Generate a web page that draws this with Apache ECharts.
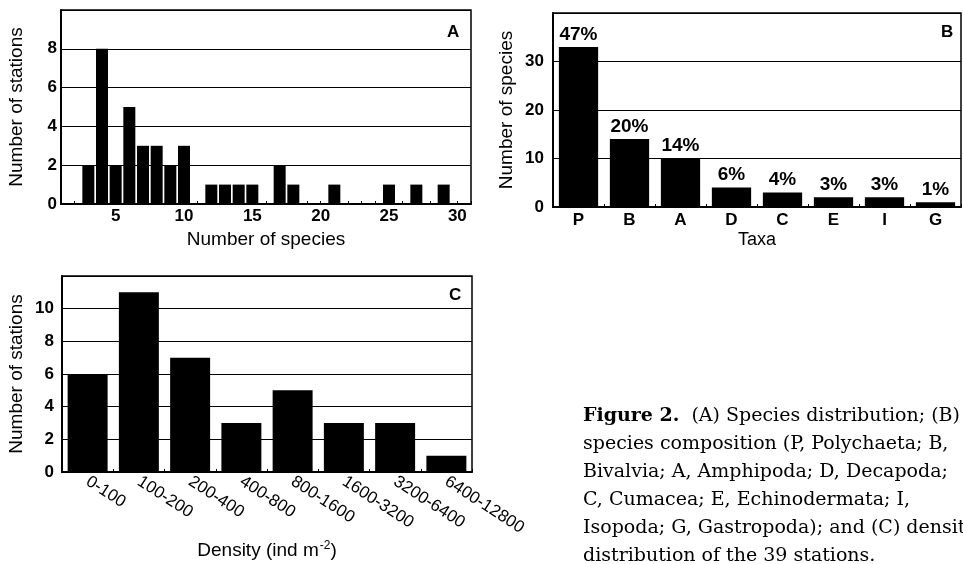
<!DOCTYPE html>
<html><head><meta charset="utf-8">
<script src="https://cdn.jsdelivr.net/npm/echarts@6/dist/echarts.min.js"></script>
<style>html,body{margin:0;padding:0;background:#fff}#main{width:963px;height:564px}</style>
</head><body><div id="main"></div>
<script>
// A: species distribution
var speciesCount = [3, 4, 5, 6, 7, 8, 9, 10, 12, 13, 14, 15, 17, 18, 21, 25, 27, 29]
var stationsA = [2, 8, 2, 5, 3, 3, 2, 3, 1, 1, 1, 1, 2, 1, 1, 1, 1, 1]
// B: species composition
var taxa = ['P', 'B', 'A', 'D', 'C', 'E', 'I', 'G']
var speciesB = [33, 14, 10, 4, 3, 2, 2, 1]
var pctB = ['47%', '20%', '14%', '6%', '4%', '3%', '3%', '1%']
// C: density distribution
var densityBins = ['0-100', '100-200', '200-400', '400-800', '800-1600', '1600-3200', '3200-6400', '6400-12800']
var stationsC = [6, 11, 7, 3, 5, 3, 3, 1]

var FONT = 'Liberation Sans'
var SERIF = 'DejaVu Serif'

var chart = echarts.init(document.getElementById('main'))

function gridBox(left, top, width, height) {
  return {
    left: left, top: top, width: width, height: height,
    show: true, borderColor: '#000', borderWidth: 1.5, backgroundColor: '#fff'
  }
}

function yAxis(idx, max, interval, name, gap, margin) {
  return {
    type: 'value', gridIndex: idx, min: 0, max: max, interval: interval,
    name: name, nameLocation: 'middle', nameGap: gap,
    nameTextStyle: { fontFamily: FONT, fontSize: 19, color: '#000' },
    axisLine: { show: true, lineStyle: { color: '#000', width: 2 } },
    axisTick: { show: true, inside: true, length: 4, lineStyle: { color: '#000' } },
    axisLabel: {
      fontFamily: FONT, fontSize: 17, fontWeight: 'bold', color: '#000', margin: margin,
      formatter: function (v) { return v === max ? '' : v }
    },
    splitLine: { show: true, lineStyle: { color: '#000', width: 1.2 } }
  }
}

var captionLines = [
  '{b|Figure 2.}  (A) Species distribution; (B)',
  'species composition (P, Polychaeta; B,',
  'Bivalvia; A, Amphipoda; D, Decapoda;',
  'C, Cumacea; E, Echinodermata; I,',
  'Isopoda; G, Gastropoda); and (C) density',
  'distribution of the 39 stations.'
]

var graphics = [
  { type: 'text', left: 447, top: 24, style: { text: 'A', font: 'bold 17px ' + FONT, fill: '#000' } },
  { type: 'text', left: 941, top: 24, style: { text: 'B', font: 'bold 17px ' + FONT, fill: '#000' } },
  { type: 'text', left: 449, top: 287, style: { text: 'C', font: 'bold 17px ' + FONT, fill: '#000' } }
]
captionLines.forEach(function (line, i) {
  graphics.push({
    type: 'text', x: 583, y: 416 + i * 28,
    style: {
      text: line, fill: '#000', fontFamily: SERIF, fontSize: 19, verticalAlign: 'middle',
      rich: { b: { fontFamily: SERIF, fontSize: 19, fontWeight: 'bold' } }
    }
  })
})

chart.setOption({
  animation: false,
  backgroundColor: '#fff',
  grid: [
    gridBox(61, 10, 410, 194),
    gridBox(553, 13, 408, 194),
    gridBox(62, 276, 410, 196)
  ],
  xAxis: [
    {
      type: 'value', gridIndex: 0, min: 1, max: 31, interval: 1,
      name: 'Number of species', nameLocation: 'middle', nameGap: 26,
      nameTextStyle: { fontFamily: FONT, fontSize: 19, color: '#000' },
      axisLine: { show: true, lineStyle: { color: '#000', width: 2 } },
      axisTick: { show: true, inside: true, length: 3, lineStyle: { color: '#000' } },
      axisLabel: {
        fontFamily: FONT, fontSize: 17, fontWeight: 'bold', color: '#000', margin: 4,
        formatter: function (v) { return v % 5 === 0 ? v : '' }
      },
      splitLine: { show: false }
    },
    {
      type: 'category', gridIndex: 1, data: taxa,
      name: 'Taxa', nameLocation: 'middle', nameGap: 24,
      nameTextStyle: { fontFamily: FONT, fontSize: 18, color: '#000' },
      axisLine: { show: true, lineStyle: { color: '#000', width: 2 } },
      axisTick: { show: true, inside: true, length: 3, lineStyle: { color: '#000' } },
      axisLabel: { fontFamily: FONT, fontSize: 17, fontWeight: 'bold', color: '#000', margin: 5 }
    },
    {
      type: 'category', gridIndex: 2, data: densityBins,
      name: '{n|Density (ind m}{s|-2}{n|)}', nameLocation: 'middle', nameGap: 68,
      nameTextStyle: {
        color: '#000',
        rich: {
          n: { fontFamily: FONT, fontSize: 19, color: '#000' },
          s: { fontFamily: FONT, fontSize: 12, color: '#000', padding: [0, 0, 10, 1] }
        }
      },
      axisLine: { show: true, lineStyle: { color: '#000', width: 2 } },
      axisTick: { show: true, inside: true, length: 3, lineStyle: { color: '#000' } },
      axisLabel: { fontFamily: FONT, fontSize: 17, color: '#000', margin: 8, rotate: -33, interval: 0 }
    }
  ],
  yAxis: [
    yAxis(0, 10, 2, 'Number of stations', 35, 4),
    yAxis(1, 40, 10, 'Number of species', 37, 9),
    yAxis(2, 12, 2, 'Number of stations', 36, 8)
  ],
  series: [
    {
      type: 'bar', xAxisIndex: 0, yAxisIndex: 0, barWidth: 12,
      itemStyle: { color: '#000' },
      data: speciesCount.map(function (s, i) { return [s, stationsA[i]] })
    },
    {
      type: 'bar', xAxisIndex: 1, yAxisIndex: 1, barCategoryGap: '23%',
      itemStyle: { color: '#000' },
      label: {
        show: true, position: 'top', distance: 3,
        fontFamily: FONT, fontSize: 19, fontWeight: 'bold', color: '#000',
        formatter: function (p) { return pctB[p.dataIndex] }
      },
      data: speciesB
    },
    {
      type: 'bar', xAxisIndex: 2, yAxisIndex: 2, barCategoryGap: '22%',
      itemStyle: { color: '#000' },
      data: stationsC
    }
  ],
  graphic: graphics
})
</script></body></html>
